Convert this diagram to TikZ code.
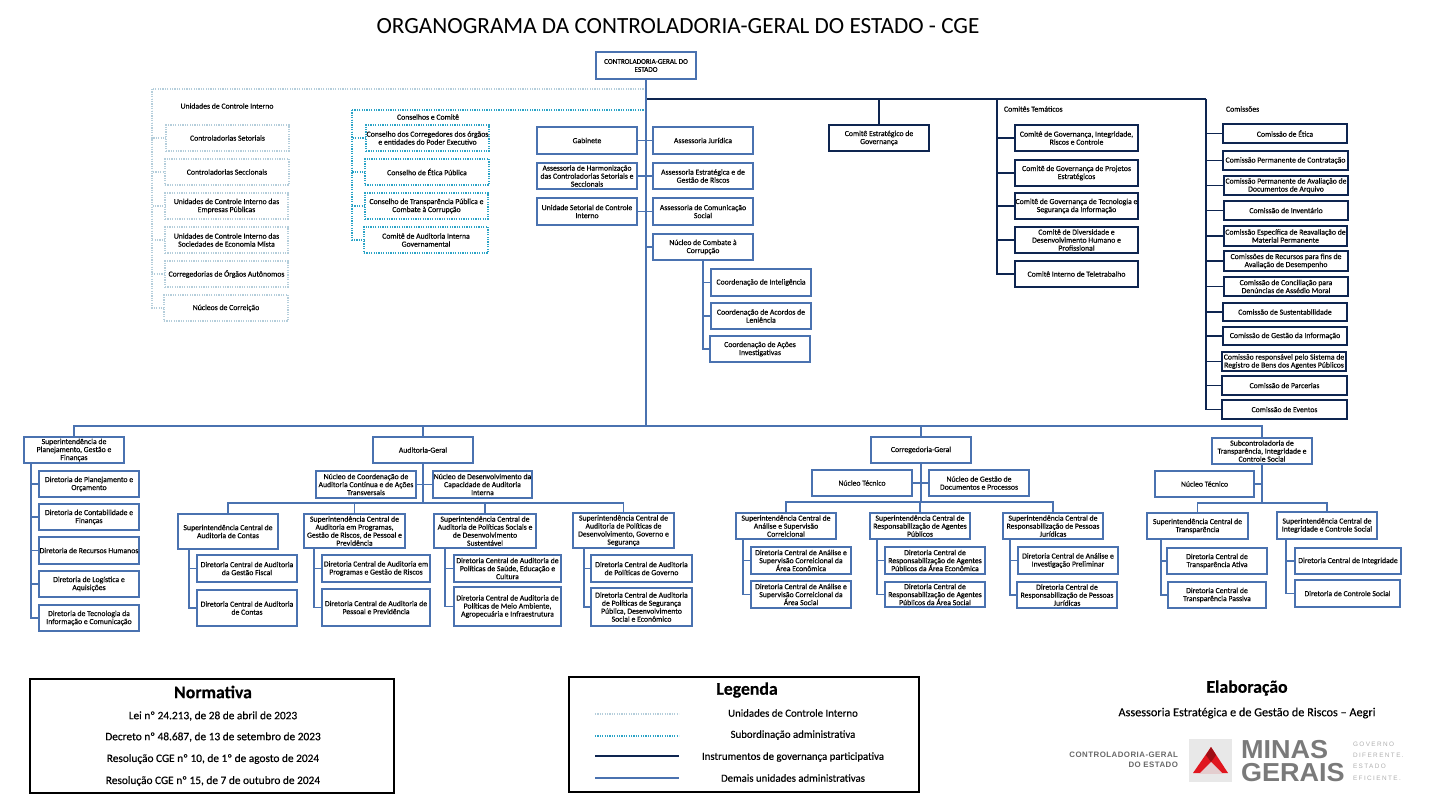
\documentclass[tikz,border=0pt]{standalone}
\usepackage{fontspec}
\setmainfont[FakeBold=0.25]{Carlito}
\newfontfamily\titlefont{Carlito}
\newfontfamily\logofont[LetterSpace=6.0]{Liberation Sans}
\newfontfamily\logobigfont{Liberation Sans}
\newfontfamily\slogfont[LetterSpace=22.0]{Liberation Sans}
\usetikzlibrary{positioning,calc}
\definecolor{AdminBlue}{HTML}{4A72B0}
\definecolor{GovNavy}{HTML}{0E2550}
\definecolor{SubTeal}{HTML}{2BA3C6}
\definecolor{UciGrey}{HTML}{B5CEDB}
\definecolor{LogoGrey}{HTML}{7A7A7A}
\definecolor{LogoRed}{HTML}{E0161E}
\tikzset{chart layout/.style={%
    x=.75pt,
    y=-.75pt,
    every node/.style={%
        font=\fontsize{5.8}{6}\selectfont, inner sep=0pt, outer sep=0pt, align=center, text=black
    }
}}
\tikzset{dot line/.style={line width=1.1pt, dash pattern=on .9pt off .9pt}}
\tikzset{uciline/.style={dot line, draw=UciGrey}}
\tikzset{subline/.style={dot line, draw=SubTeal}}
\tikzset{govline/.style={line width=1.3pt, draw=GovNavy}}
\tikzset{adminline/.style={line width=1.3pt, draw=AdminBlue}}
\tikzset{framebox/.style={draw=black, line width=1.6pt}}
\tikzset{headtext/.style={font=\fontsize{13.3}{15}\selectfont\bfseries}}
\tikzset{lawtext/.style={font=\fontsize{8.5}{10}\selectfont}}

\begin{document}
\begin{tikzpicture}[chart layout]
    \useasboundingbox (0,0) rectangle (1438,808);

    \node (title) at (678,26) [font=\titlefont\fontsize{17.4}{20}\selectfont] {ORGANOGRAMA DA CONTROLADORIA-GERAL DO ESTADO - CGE};

    \foreach \st/\nm/\xa/\ya/\xb/\yb/\lbl in {
        adminline/root/596/52/696/79/{\fontsize{5.4}{6}\selectfont CONTROLADORIA-GERAL DO\\\fontsize{5.4}{6}\selectfont ESTADO},
        % unidades de controle interno
        uciline/csetor/166/125/289/151/{Controladorias Setoriais},
        uciline/csecc/165/159/289/185/{Controladorias Seccionais},
        uciline/uciemp/165/193/288/219/{Unidades de Controle Interno das\\Empresas Públicas},
        uciline/ucisoc/165/227/288/253/{Unidades de Controle Interno das\\Sociedades de Economia Mista},
        uciline/coraut/165/261/288/287/{Corregedorias de Órgãos Autônomos},
        uciline/nuccor/164/295/288/321/{Núcleos de Correição},
        % conselhos
        subline/ccorr/366/125/489/151/{Conselho dos Corregedores dos órgãos\\e entidades do Poder Executivo},
        subline/cetica/365/159/489/185/{Conselho de Ética Pública},
        subline/ctransp/365/193/488/219/{Conselho de Transparência Pública e\\Combate à Corrupção},
        subline/caudit/364/227/488/253/{Comitê de Auditoria Interna\\Governamental},
        % assessorias
        adminline/gabinete/537/127/637/154/{Gabinete},
        adminline/harmon/537/163/637/189/{Assessoria de Harmonização\\das Controladorias Setoriais e\\Seccionais},
        adminline/usci/537/198/637/225/{Unidade Setorial de Controle\\Interno},
        adminline/jurid/653/127/753/154/{Assessoria Jurídica},
        adminline/aegri/653/163/753/189/{Assessoria Estratégica e de\\Gestão de Riscos},
        adminline/ascom/653/198/753/225/{Assessoria de Comunicação\\Social},
        adminline/nucomb/653/234/753/260/{Núcleo de Combate à\\Corrupção},
        adminline/cintel/711/269/811/296/{Coordenação de Inteligência},
        adminline/cacord/711/303/811/329/{Coordenação de Acordos de\\Leniência},
        adminline/cacoes/710/336/810/362/{Coordenação de Ações\\Investigativas},
        % governanca
        govline/cestrat/829/125/929/151/{Comitê Estratégico de\\Governança},
        govline/cgirc/1015/125/1138/151/{Comitê de Governança, Integridade,\\Riscos e Controle},
        govline/cgproj/1015/160/1138/186/{Comitê de Governança de Projetos\\Estratégicos},
        govline/cgtec/1015/193/1138/219/{Comitê de Governança de Tecnologia e\\Segurança da Informação},
        govline/cdiv/1015/227/1138/253/{Comitê de Diversidade e\\Desenvolvimento Humano e\\Profissional},
        govline/ctele/1015/261/1138/287/{Comitê Interno de Teletrabalho},
        govline/cmet/1223/124/1347/143/{Comissão de Ética},
        govline/cmcon/1223/151/1348/170/{Comissão Permanente de Contratação},
        govline/cmarq/1224/176/1348/195/{Comissão Permanente de Avaliação de\\Documentos de Arquivo},
        govline/cminv/1224/201/1348/220/{Comissão de Inventário},
        govline/cmrea/1224/226/1347/246/{Comissão Específica de Reavaliação de\\Material Permanente},
        govline/cmrec/1224/251/1348/271/{Comissões de Recursos para fins de\\Avaliação de Desempenho},
        govline/cmass/1224/277/1348/296/{Comissão de Conciliação para\\Denúncias de Assédio Moral},
        govline/cmsus/1223/303/1347/321/{Comissão de Sustentabilidade},
        govline/cmges/1223/327/1347/345/{Comissão de Gestão da Informação},
        govline/cmreg/1222/352/1346/371/{Comissão responsável pelo Sistema de\\Registro de Bens dos Agentes Públicos},
        govline/cmpar/1222/376/1347/395/{Comissão de Parcerias},
        govline/cmeve/1222/400/1347/419/{Comissão de Eventos},
        % superintendencia
        adminline/sgf/24/437/124/463/{Superintendência de\\Planejamento, Gestão e\\Finanças},
        adminline/dpo/39/471/139/497/{Diretoria de Planejamento e\\Orçamento},
        adminline/dcf/39/504/139/530/{Diretoria de Contabilidade e\\Finanças},
        adminline/drh/39/537/139/564/{Diretoria de Recursos Humanos},
        adminline/dla/39/571/139/597/{Diretoria de Logística e\\Aquisições},
        adminline/dti/39/605/139/631/{Diretoria de Tecnologia da\\Informação e Comunicação},
        % auditoria
        adminline/audit/373/437/473/463/{Auditoria-Geral},
        adminline/ncoord/316/471/416/498/{Núcleo de Coordenação de\\Auditoria Contínua e de Ações\\Transversais},
        adminline/ndesen/433/471/532/498/{Núcleo de Desenvolvimento da\\Capacidade de Auditoria\\Interna},
        adminline/scont/178/514/278/549/{Superintendência Central de\\Auditoria de Contas},
        adminline/sprog/304/514/405/548/{Superintendência Central de\\Auditoria em Programas,\\Gestão de Riscos, de Pessoal e\\Previdência},
        adminline/ssoc/434/514/536/548/{Superintendência Central de\\Auditoria de Políticas Sociais e\\de Desenvolvimento\\Sustentável},
        adminline/sgov/573/513/674/548/{Superintendência Central de\\Auditoria de Políticas de\\Desenvolvimento, Governo e\\Segurança},
        adminline/dgfis/197/555/297/582/{Diretoria Central de Auditoria\\da Gestão Fiscal},
        adminline/dcont/197/590/297/626/{Diretoria Central de Auditoria\\de Contas},
        adminline/dprog/322/555/430/582/{Diretoria Central de Auditoria em\\Programas e Gestão de Riscos},
        adminline/dpess/322/589/430/626/{Diretoria Central de Auditoria de\\Pessoal e Previdência},
        adminline/dsaude/454/555/561/582/{Diretoria Central de Auditoria de\\Políticas de Saúde, Educação e\\Cultura},
        adminline/dmeio/454/587/561/626/{Diretoria Central de Auditoria de\\Políticas de Meio Ambiente,\\Agropecuária e Infraestrutura},
        adminline/dgov/591/555/692/582/{Diretoria Central de Auditoria\\de Políticas de Governo},
        adminline/dseg/591/588/692/626/{Diretoria Central de Auditoria\\de Políticas de Segurança\\Pública, Desenvolvimento\\Social e Econômico},
        % corregedoria
        adminline/correg/871/437/971/463/{Corregedoria-Geral},
        adminline/ntcor/812/470/912/496/{Núcleo Técnico},
        adminline/ngest/929/470/1029/496/{Núcleo de Gestão de\\Documentos e Processos},
        adminline/sana/736/513/836/539/{Superintendência Central de\\Análise e Supervisão\\Correicional},
        adminline/sresp/870/513/970/539/{Superintendência Central de\\Responsabilização de Agentes\\Públicos},
        adminline/spes/1003/513/1103/539/{Superintendência Central de\\Responsabilização de Pessoas\\Jurídicas},
        adminline/daeco/751/547/851/574/{Diretoria Central de Análise e\\Supervisão Correicional da\\Área Econômica},
        adminline/dasoc/751/581/851/608/{Diretoria Central de Análise e\\Supervisão Correicional da\\Área Social},
        adminline/dreco/885/547/985/574/{Diretoria Central de\\Responsabilização de Agentes\\Públicos da Área Econômica},
        adminline/drsoc/885/582/985/607/{Diretoria Central de\\Responsabilização de Agentes\\Públicos da Área Social},
        adminline/dprel/1018/547/1118/574/{Diretoria Central de Análise e\\Investigação Preliminar},
        adminline/drpes/1017/582/1117/608/{Diretoria Central de\\Responsabilização de Pessoas\\Jurídicas},
        % subcontroladoria
        adminline/subc/1212/438/1312/464/{Subcontroladoria de\\Transparência, Integridade e\\Controle Social},
        adminline/ntsub/1155/471/1254/497/{Núcleo Técnico},
        adminline/stra/1147/513/1248/539/{Superintendência Central de\\Transparência},
        adminline/sint/1277/512/1377/539/{Superintendência Central de\\Integridade e Controle Social},
        adminline/dativ/1167/548/1267/574/{Diretoria Central de\\Transparência Ativa},
        adminline/dpass/1168/582/1266/608/{Diretoria Central de\\Transparência Passiva},
        adminline/dinteg/1295/548/1401/574/{Diretoria Central de Integridade},
        adminline/dcsoc/1295/580/1400/607/{Diretoria de Controle Social}%
    } {
        \node[\st, minimum width={(\xb-\xa)*.75pt}, minimum height={(\yb-\ya)*.75pt}] (\nm) at ({(\xa+\xb)/2},{(\ya+\yb)/2}) {\lbl};
    }

    \node (lbluci) at (227,106) {Unidades de Controle Interno};
    \node (lblcons) at (428,117) {Conselhos e Comitê};
    \node (lblctem) at (1004,109) [anchor=west] {Comitês Temáticos};
    \node (lblcoms) at (1226,109) [anchor=west] {Comissões};

    \coordinate (trunk) at (646,426);
    \coordinate (ucibus) at (152,89);
    \coordinate (subbus) at (352,110);
    \coordinate (govbus) at (646,99);
    \coordinate (ctembus) at (997,99);
    \coordinate (comsbus) at (1206,99);

    % linhas pontilhadas
    \draw[uciline] (root.south |- ucibus) -- (ucibus);
    \foreach \k in {csetor,csecc,uciemp,ucisoc,coraut,nuccor} {
        \draw[uciline] (ucibus) |- (\k.west);
    }
    \draw[subline] (root.south |- subbus) -- (subbus);
    \foreach \k in {ccorr,cetica,ctransp,caudit} {
        \draw[subline] (subbus) |- (\k.west);
    }

    % governanca participativa
    \draw[govline] (govbus) -- (comsbus);
    \draw[govline] (cestrat.north |- govbus) -- (cestrat.north);
    \foreach \k in {cgirc,cgproj,cgtec,cdiv,ctele} {
        \draw[govline] (ctembus) |- (\k.west);
    }
    \foreach \k in {cmet,cmcon,cmarq,cminv,cmrea,cmrec,cmass,cmsus,cmges,cmreg,cmpar,cmeve} {
        \draw[govline] (comsbus) |- (\k.west);
    }

    % demais unidades
    \foreach \k in {sgf,audit,correg,subc} {
        \draw[adminline] (root.south) -- (trunk) -| (\k.north);
    }
    \draw[adminline] (gabinete) -- (jurid);
    \draw[adminline] (harmon) -- (aegri);
    \draw[adminline] (usci) -- (ascom);
    \draw[adminline] (nucomb.west) -- (nucomb.west -| root.south);
    \draw[adminline] (ncoord) -- (ndesen);
    \draw[adminline] (ntcor) -- (ngest);
    \draw[adminline] (ntsub.east) -- (ntsub.east -| subc.south);

    \foreach \p/\by/\kids in {audit/503/{scont,sprog,ssoc,sgov}, correg/502/{sana,sresp,spes}, subc/503/{stra,sint}} {
        \foreach \k in \kids {
            \draw[adminline] (\p.south) -- (\p.south |- 0,\by) -| (\k.north);
        }
    }

    \foreach \p/\bx/\kids in {
        nucomb/703/{cintel,cacord,cacoes},
        sgf/31/{dpo,dcf,drh,dla,dti},
        scont/189/{dgfis,dcont},
        sprog/314/{dprog,dpess},
        ssoc/445/{dsaude,dmeio},
        sgov/584/{dgov,dseg},
        sana/743/{daeco,dasoc},
        sresp/877/{dreco,drsoc},
        spes/1010/{dprel,drpes},
        stra/1161/{dativ,dpass},
        sint/1286/{dinteg,dcsoc}%
    } {
        \coordinate (bus\p) at (\bx,0 |- \p.south);
        \foreach \k in \kids {
            \draw[adminline] (bus\p) |- (\k.west);
        }
    }

    % normativa
    \node[framebox, minimum width=273pt, minimum height=85.5pt] (normbox) at (212,736) {};
    \node[headtext] (normhead) at (213,692) {Normativa};
    \node[lawtext] (law1) at (213,716) {Lei nº 24.213, de 28 de abril de 2023};
    \node[lawtext] (law2) at (213,737) {Decreto nº 48.687, de 13 de setembro de 2023};
    \node[lawtext] (law3) at (213,759) {Resolução CGE nº 10, de 1º de agosto de 2024};
    \node[lawtext] (law4) at (213,781) {Resolução CGE nº 15, de 7 de outubro de 2024};

    % legenda
    \node[framebox, minimum width=262.5pt, minimum height=86.25pt] (legbox) at (744,734.5) {};
    \node[headtext] (leghead) at (747,690) {Legenda};
    \foreach \i/\st/\yl/\yt/\lbl in {
        1/uciline/714/713/{Unidades de Controle Interno},
        2/subline/736/735/{Subordinação administrativa},
        3/govline/756/757/{Instrumentos de governança participativa},
        4/adminline/778/778/{Demais unidades administrativas}%
    } {
        \coordinate (lega\i) at (595,\yl);
        \coordinate (legb\i) at (679,\yl);
        \draw[\st] (lega\i) -- (legb\i);
        \node[font=\fontsize{8.1}{10}\selectfont] (legt\i) at (793,\yt) {\lbl};
    }

    % elaboracao
    \node[headtext] (elabhead) at (1247,688) {Elaboração};
    \node[font=\fontsize{9.2}{11}\selectfont] (elabtext) at (1247,713) {Assessoria Estratégica e de Gestão de Riscos – Aegri};

    \node[font=\logofont\fontsize{5.9}{7.5}\selectfont\bfseries, text=LogoGrey!85!black, align=right, anchor=east] (logocge) at (1178,760) {CONTROLADORIA-GERAL\\DO ESTADO};
    \fill[gray!18] (1189,739) rectangle (1232,782);
    \fill[LogoRed] (1211,747) -- (1228,773) -- (1193,773) -- cycle;
    \fill[LogoRed!35!gray!30] (1211,762) -- (1222,773) -- (1200,773) -- cycle;
    \fill[LogoRed!70!black] (1211,747) -- (1216,755) -- (1211,762) -- (1206,755) -- cycle;
    \node[font=\logobigfont\fontsize{19.5}{20}\selectfont\bfseries, text=LogoGrey, anchor=west, xscale=1.04] (logominas) at (1241,750) {MINAS};
    \node[font=\logobigfont\fontsize{19.5}{20}\selectfont\bfseries, text=LogoGrey, anchor=west, xscale=1.04] (logogerais) at (1241,773) {GERAIS};
    \node[font=\slogfont\fontsize{4.8}{8.5}\selectfont, text=LogoGrey!60, align=left, anchor=west] (logoslog) at (1353,761) {GOVERNO\\DIFERENTE.\\ESTADO\\EFICIENTE.};
\end{tikzpicture}
\end{document}
